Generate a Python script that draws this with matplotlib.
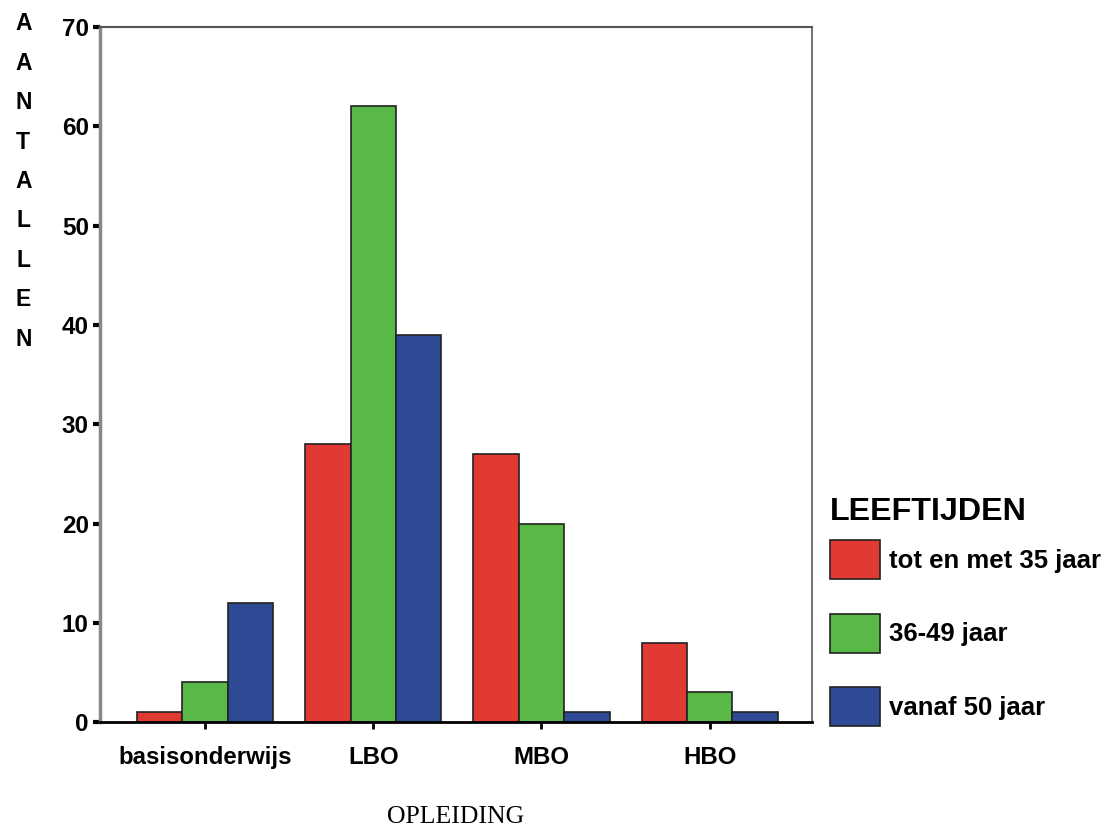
import matplotlib.pyplot as plt
import numpy as np

# opleiding vs leeftijd
opleiding = ['basisonderwijs', 'LBO', 'MBO', 'HBO']
tot35 = [1, 28, 27, 8]
jr36_49 = [4, 62, 20, 3]
vanaf50 = [12, 39, 1, 1]
reeksen = ['tot en met 35 jaar', '36-49 jaar', 'vanaf 50 jaar']
kleuren = ['#E03A33', '#58B947', '#2E4A94']
yticks = [0, 10, 20, 30, 40, 50, 60, 70]

plt.rcParams['font.family'] = ['Liberation Sans', 'DejaVu Sans']

fig = plt.figure(figsize=(11.06, 8.31), dpi=100)
ax = fig.add_axes([0.0904, 0.131, 0.644, 0.8365])

x = np.arange(len(opleiding))
w = 0.27
for i, (vals, lab) in enumerate(zip([tot35, jr36_49, vanaf50], reeksen)):
    ax.bar(x + (i - 1) * w, vals, w, color=kleuren[i], edgecolor='#222222',
           linewidth=1.2, label=lab)

ax.set_xlim(-0.625, 3.61)
ax.set_ylim(0, 70)
ax.set_yticks(yticks)
ax.set_xticks(x)
ax.set_xticklabels(opleiding, fontsize=17.3)
ax.tick_params(axis='y', length=5, width=3, direction='out', labelsize=17.5, pad=3)
ax.tick_params(axis='x', length=5, width=2, direction='out', pad=12)
for t in ax.get_yticklabels():
    t.set_fontweight('bold')
for t in ax.get_xticklabels():
    t.set_fontweight('bold')

ax.spines['left'].set_color('#888888')
ax.spines['left'].set_linewidth(2.5)
ax.spines['right'].set_color('#777777')
ax.spines['right'].set_linewidth(1.5)
ax.spines['top'].set_color('#555555')
ax.spines['top'].set_linewidth(1.5)
ax.spines['bottom'].set_color('black')
ax.spines['bottom'].set_linewidth(2)

ax.set_xlabel('OPLEIDING', family=['Liberation Serif'], fontsize=18.5, labelpad=27)

fig.text(0.021, 0.985, '\n'.join('AANTALLEN'), ha='center', va='top',
         fontsize=16.5, fontweight='bold', linespacing=1.91)

fig.text(0.750, 0.384, 'LEEFTIJDEN', ha='left', va='center',
         fontsize=23.2, fontweight='bold')
leg = fig.legend(loc='upper left', bbox_to_anchor=(0.750, 0.350), frameon=False,
                 fontsize=18.5,
                 handlelength=1.95, handleheight=1.96, labelspacing=1.34,
                 handletextpad=0.38, borderpad=0, borderaxespad=0)
for t in leg.get_texts():
    t.set_fontweight('bold')

fig.savefig('out.png', dpi=100)
